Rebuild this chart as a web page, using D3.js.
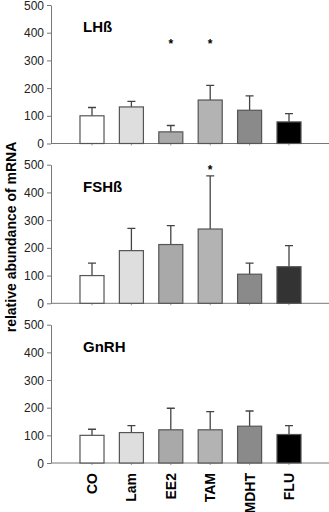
<!DOCTYPE html>
<html>
<head>
<meta charset="utf-8">
<script src="https://cdn.jsdelivr.net/npm/d3@7"></script>
<style>
  body { margin: 0; background: #fff; }
  text { font-family: "Liberation Sans", Arial, sans-serif; }
</style>
</head>
<body>
<svg id="chart" width="329" height="512"></svg>
<script>
const groups = ['CO', 'Lam', 'EE2', 'TAM', 'MDHT', 'FLU'];
const yTicks = [0, 100, 200, 300, 400, 500];

const panelNames = ['LH\u00df', 'FSH\u00df', 'GnRH'];
const lhMeans = [100, 132, 42, 157, 120, 78];
const lhErrTops = [130, 152, 65, 210, 172, 108];
const fshMeans = [100, 190, 212, 268, 105, 132];
const fshErrTops = [145, 270, 280, 460, 145, 208];
const gnrhMeans = [100, 110, 120, 120, 133, 103];
const gnrhErrTops = [122, 135, 198, 186, 188, 135];

const lhStars = ['EE2', 'TAM'];
const fshStars = ['TAM'];
const gnrhStars = [];

const barColors = ['#ffffff', '#dedede', '#a9a9a9', '#b3b3b3', '#8a8a8a', '#000000'];
const fshFluColor = '#333333';

const panels = [
  { name: panelNames[0], means: lhMeans, errs: lhErrTops, stars: lhStars, top: 5, bottom: 143.5 },
  { name: panelNames[1], means: fshMeans, errs: fshErrTops, stars: fshStars, top: 164.7, bottom: 303.3 },
  { name: panelNames[2], means: gnrhMeans, errs: gnrhErrTops, stars: gnrhStars, top: 324.7, bottom: 463 }
];

const svg = d3.select('#chart');
const axisLeft = 51;
const axisRight = 329;

const x = d3.scaleBand()
  .domain(groups)
  .range([72.3, 308.7])
  .paddingInner(0.39)
  .paddingOuter(0.195);

panels.forEach((p, pi) => {
  const y = d3.scaleLinear().domain([0, 500]).range([p.bottom, p.top]);
  const g = svg.append('g');

  // y axis
  const ya = g.append('g')
    .attr('transform', `translate(${axisLeft},0)`)
    .call(d3.axisLeft(y).tickValues(yTicks).tickSize(4).tickSizeOuter(0).tickPadding(3));
  ya.select('.domain').attr('stroke', '#777');
  ya.selectAll('.tick line').attr('stroke', '#777');
  ya.selectAll('.tick text').attr('font-size', 12).attr('fill', '#222')
    .attr('dy', '0.34em')
    .style('font-family', '"Liberation Sans", Arial, sans-serif');

  // x axis line
  g.append('line')
    .attr('x1', axisLeft).attr('x2', axisRight)
    .attr('y1', y(0)).attr('y2', y(0))
    .attr('stroke', '#777').attr('stroke-width', 1);

  // small ticks below bars
  g.selectAll('.xt').data(groups).enter().append('line')
    .attr('x1', d => x(d) + x.bandwidth() / 2)
    .attr('x2', d => x(d) + x.bandwidth() / 2)
    .attr('y1', y(0)).attr('y2', y(0) + 2)
    .attr('stroke', '#999');

  // error bars
  const cap = 4;
  g.selectAll('.err').data(groups).enter().append('path')
    .attr('d', (d, i) => {
      const cx = x(d) + x.bandwidth() / 2;
      return `M${cx},${y(p.means[i])}V${y(p.errs[i])}M${cx - cap},${y(p.errs[i])}H${cx + cap}`;
    })
    .attr('stroke', '#444').attr('stroke-width', 1.3).attr('fill', 'none');

  // bars
  g.selectAll('.bar').data(groups).enter().append('rect')
    .attr('x', d => x(d))
    .attr('y', (d, i) => y(p.means[i]))
    .attr('width', x.bandwidth())
    .attr('height', (d, i) => y(0) - y(p.means[i]))
    .attr('fill', (d, i) => (pi === 1 && d === 'FLU') ? fshFluColor : barColors[i])
    .attr('stroke', '#555').attr('stroke-width', 1.2);

  // stars
  g.selectAll('.star').data(p.stars).enter().append('text')
    .attr('x', d => x(d) + x.bandwidth() / 2)
    .attr('y', pi === 0 ? y(345) : y(468))
    .attr('text-anchor', 'middle')
    .attr('font-size', 12).attr('font-weight', 'bold')
    .text('*');

  // panel label
  g.append('text')
    .attr('x', 83)
    .attr('y', y(402))
    .attr('font-size', 15).attr('font-weight', 'bold')
    .text(p.name);
});

// y axis title
svg.append('text')
  .attr('transform', 'translate(16,237) rotate(-90)')
  .attr('text-anchor', 'middle')
  .attr('font-size', 14).attr('font-weight', 'bold')
  .text('relative abundance of mRNA');

// category labels
svg.selectAll('.cat').data(groups).enter().append('text')
  .attr('transform', d => `translate(${x(d) + x.bandwidth() / 2 + 5},473) rotate(-90)`)
  .attr('text-anchor', 'end')
  .attr('font-size', 14).attr('font-weight', 'bold')
  .text(d => d);
</script>
</body>
</html>
